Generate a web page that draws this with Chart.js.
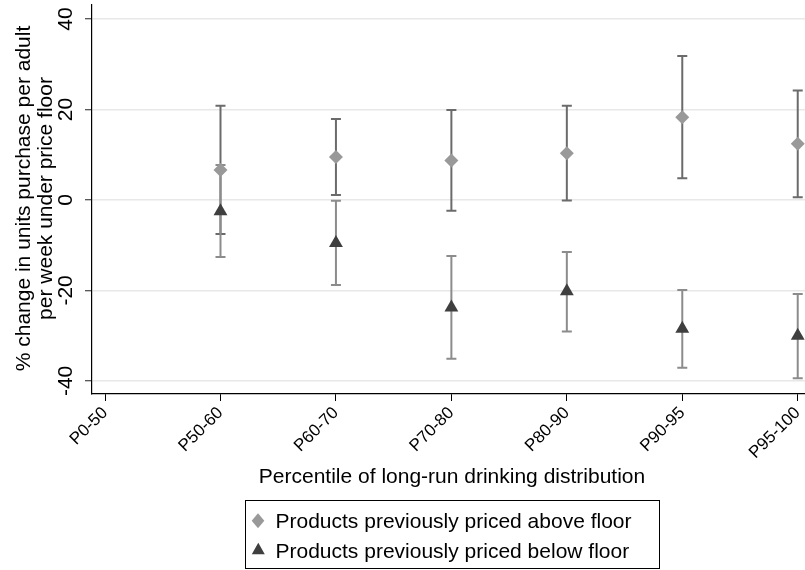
<!DOCTYPE html>
<html>
<head>
<meta charset="utf-8">
<script src="https://cdn.jsdelivr.net/npm/chart.js@4/dist/chart.umd.min.js"></script>
<style>
html,body{margin:0;padding:0;background:#fff;}
#wrap{width:805px;height:570px;position:relative;}
</style>
</head>
<body>
<div id="wrap"><canvas id="c" width="805" height="570"></canvas></div>
<script>
// ---- data ----
const categories = ['P0-50','P50-60','P60-70','P70-80','P80-90','P90-95','P95-100'];
const aboveEst = [null, 6.6, 9.5, 8.7, 10.3, 18.3, 12.4];
const aboveLo  = [null, -7.5, 1.1, -2.4, -0.1, 4.8, 0.6];
const aboveHi  = [null, 20.8, 17.9, 19.9, 20.8, 31.8, 24.2];
const belowEst = [null, -2.5, -9.5, -23.8, -20.2, -28.5, -30.0];
const belowLo  = [null, -12.6, -18.8, -35.1, -29.1, -37.1, -39.4];
const belowHi  = [null, 7.7, -0.15, -12.4, -11.5, -19.9, -20.8];
const yTicks = [-40, -20, 0, 20, 40];
const seriesNames = ['Products previously priced above floor', 'Products previously priced below floor'];
const yTitle = ['% change in units purchase per adult', 'per week under price floor'];
const xTitle = 'Percentile of long-run drinking distribution';

const FONT = "'Liberation Sans', Arial, sans-serif";
const toPts = arr => arr.map((v, i) => v == null ? null : {x: i, y: v}).filter(p => p);

const deco = {
  id: 'deco',
  beforeDatasetsDraw(chart) {
    const {ctx, scales: {x, y}} = chart;
    const bars = (lo, hi, color) => {
      ctx.save();
      ctx.strokeStyle = color;
      ctx.lineWidth = 2;
      for (let i = 0; i < lo.length; i++) {
        if (lo[i] == null) continue;
        const px = x.getPixelForValue(i);
        const y1 = y.getPixelForValue(lo[i]);
        const y2 = y.getPixelForValue(hi[i]);
        ctx.beginPath();
        ctx.moveTo(px, y1); ctx.lineTo(px, y2);
        ctx.moveTo(px - 5, y1); ctx.lineTo(px + 5, y1);
        ctx.moveTo(px - 5, y2); ctx.lineTo(px + 5, y2);
        ctx.stroke();
      }
      ctx.restore();
    };
    bars(aboveLo, aboveHi, '#6b6b6b');
    bars(belowLo, belowHi, '#8c8c8c');
  },
  afterDraw(chart) {
    const {ctx, scales: {y}} = chart;
    ctx.save();
    ctx.fillStyle = '#000';
    // y tick labels (rotated)
    ctx.font = '21px ' + FONT;
    yTicks.forEach(v => {
      const py = y.getPixelForValue(v);
      ctx.save();
      ctx.translate(72, py);
      ctx.rotate(-Math.PI / 2);
      ctx.textAlign = 'center';
      ctx.textBaseline = 'alphabetic';
      ctx.fillText(String(v), 0, 0);
      ctx.restore();
    });
    // y title
    const cy = (chart.chartArea.top + chart.chartArea.bottom) / 2 - 1;
    [29.5, 51.5].forEach((bx, i) => {
      ctx.save();
      ctx.translate(bx, cy);
      ctx.rotate(-Math.PI / 2);
      ctx.textAlign = 'center';
      ctx.textBaseline = 'alphabetic';
      ctx.fillText(yTitle[i], 0, 0);
      ctx.restore();
    });
    // x title
    ctx.textAlign = 'center';
    ctx.textBaseline = 'alphabetic';
    ctx.fillText(xTitle, 452, 483);
    // legend box
    ctx.strokeStyle = '#000';
    ctx.lineWidth = 1;
    ctx.strokeRect(245.5, 500.5, 414, 68);
    ctx.textAlign = 'left';
    ctx.fillText(seriesNames[0], 275.5, 527.5);
    ctx.fillText(seriesNames[1], 275.5, 557.5);
    // legend markers
    ctx.fillStyle = '#999999';
    ctx.beginPath();
    ctx.moveTo(258, 513.3); ctx.lineTo(264.3, 520.8); ctx.lineTo(258, 528.3); ctx.lineTo(251.7, 520.8);
    ctx.closePath(); ctx.fill();
    ctx.fillStyle = '#3f3f3f';
    ctx.beginPath();
    ctx.moveTo(258.3, 542.7); ctx.lineTo(264.8, 554.3); ctx.lineTo(251.8, 554.3);
    ctx.closePath(); ctx.fill();
    ctx.restore();
  }
};

new Chart(document.getElementById('c'), {
  type: 'scatter',
  data: {
    datasets: [
      { label: seriesNames[0], data: toPts(aboveEst), pointStyle: 'rectRot', pointRadius: 7,
        backgroundColor: '#999999', borderColor: '#999999', borderWidth: 0, pointHoverRadius: 7 },
      { label: seriesNames[1], data: toPts(belowEst), pointStyle: 'triangle', pointRadius: 8,
        backgroundColor: '#3f3f3f', borderColor: '#3f3f3f', borderWidth: 0, pointHoverRadius: 8 }
    ]
  },
  options: {
    responsive: false,
    animation: false,
    events: [],
    layout: { autoPadding: false, padding: { top: 5, bottom: 71, left: 0, right: 0 } },
    plugins: { legend: { display: false }, tooltip: { enabled: false } },
    scales: {
      x: {
        type: 'linear', min: -0.113, max: 6.063,
        afterBuildTicks: s => { s.ticks = categories.map((_, i) => ({ value: i })); },
        afterFit: s => { s.height = 105; s.paddingRight = 0; s.paddingLeft = 0; },
        ticks: {
          autoSkip: false, minRotation: 45, maxRotation: 45, padding: 2,
          color: '#000', font: { family: FONT, size: 17 },
          callback: v => categories[v]
        },
        grid: { drawOnChartArea: false, tickLength: 7, tickColor: '#000', tickWidth: 1 },
        border: { color: '#000', width: 1.2 }
      },
      y: {
        min: -42.9, max: 43.1,
        afterBuildTicks: s => { s.ticks = yTicks.map(v => ({ value: v })); },
        afterFit: s => { s.width = 92; s.paddingTop = 0; s.paddingBottom = 0; },
        ticks: { display: false },
        grid: { color: '#e8e8e8', lineWidth: 1.5, tickLength: 7, tickColor: '#222', tickWidth: 1 },
        border: { color: '#000', width: 1.2 }
      }
    }
  },
  plugins: [deco]
});
</script>
</body>
</html>
